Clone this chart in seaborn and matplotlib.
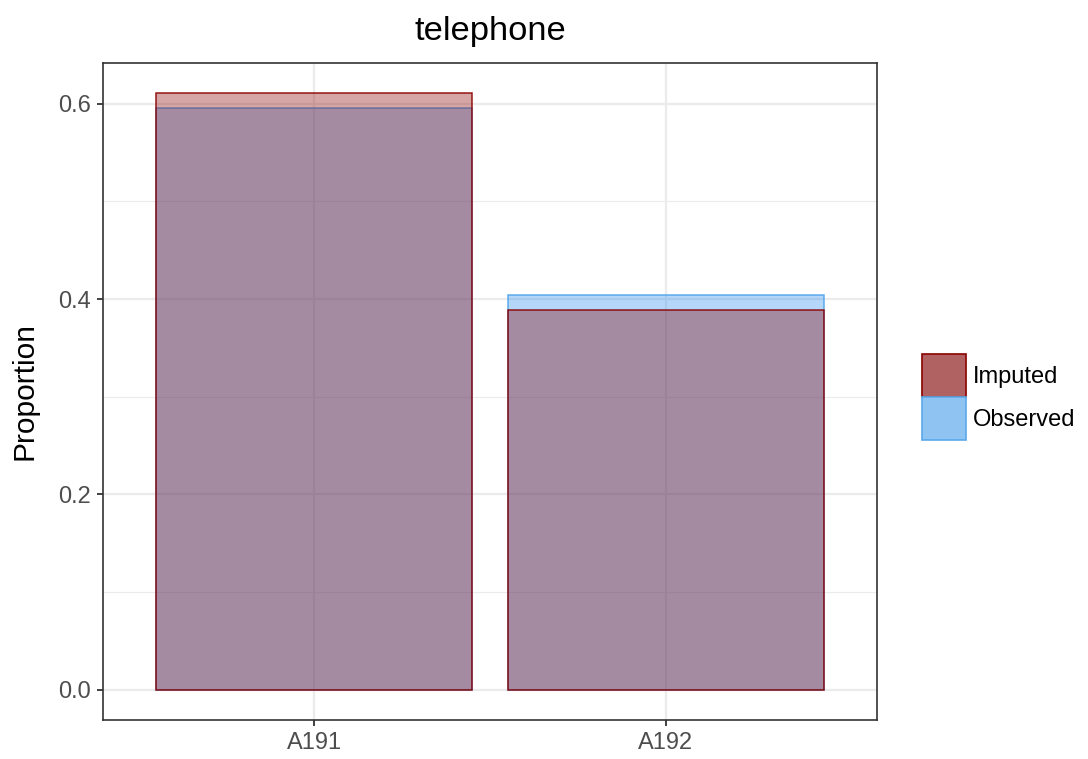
import matplotlib
matplotlib.use("Agg")
import matplotlib.pyplot as plt
from matplotlib.patches import Patch
import seaborn as sns
import pandas as pd

# Category proportions for the "telephone" variable
categories = ["A191", "A192"]
observed = [0.596, 0.404]
imputed = [0.611, 0.389]

obs_df = pd.DataFrame({"telephone": categories, "Proportion": observed})
imp_df = pd.DataFrame({"telephone": categories, "Proportion": imputed})

sns.set_theme(style="white")
plt.rcParams["font.family"] = ["Liberation Sans", "DejaVu Sans"]
plt.rcParams["text.color"] = "black"

fig = plt.figure(figsize=(10.88, 7.59), dpi=100)
ax = fig.add_axes([103 / 1088, 1 - 719.5 / 759, (877 - 103) / 1088, (719.5 - 63.3) / 759])

obs_face = (40 / 255, 140 / 255, 235 / 255, 0.35)
obs_edge = (70 / 255, 160 / 255, 235 / 255, 0.85)
imp_face = (139 / 255, 0, 0, 0.35)
imp_edge = (139 / 255, 0, 0, 0.9)

sns.barplot(data=obs_df, x="telephone", y="Proportion", order=categories,
            color="C0", saturation=1, width=0.9, ax=ax, zorder=3)
n_obs = len(ax.patches)
sns.barplot(data=imp_df, x="telephone", y="Proportion", order=categories,
            color="C1", saturation=1, width=0.9, ax=ax, zorder=4)

for i, p in enumerate(ax.patches):
    if i < n_obs:
        p.set_facecolor(obs_face)
        p.set_edgecolor(obs_edge)
    else:
        p.set_facecolor(imp_face)
        p.set_edgecolor(imp_edge)
    p.set_linewidth(1.1)

ax.set_xlim(-0.6, 1.6)
ax.set_ylim(-0.0305, 0.6415)
ax.set_yticks([0.0, 0.2, 0.4, 0.6])
ax.set_yticklabels(["0.0", "0.2", "0.4", "0.6"])
ax.set_yticks([0.1, 0.3, 0.5], minor=True)

ax.grid(True, which="major", color="#EBEBEB", linewidth=1.6, zorder=0)
ax.grid(True, which="minor", axis="y", color="#EBEBEB", linewidth=0.8, zorder=0)
ax.set_axisbelow(True)

for s in ax.spines.values():
    s.set_color("#333333")
    s.set_linewidth(1.2)

ax.tick_params(axis="both", which="major", direction="out", length=4.3, width=1.3,
               color="#333333", labelcolor="#4D4D4D", labelsize=17, pad=4.5,
               left=True, bottom=True)
ax.tick_params(axis="both", which="minor", length=0)

ax.set_xlabel("")
ax.set_ylabel("Proportion", fontsize=21.5, color="black", labelpad=14)
ax.set_title("telephone", fontsize=24.8, color="black", pad=17)

handles = [
    Patch(facecolor=(176 / 255, 98 / 255, 98 / 255), edgecolor=(139 / 255, 0, 0), linewidth=1.2, label="Imputed"),
    Patch(facecolor=(143 / 255, 196 / 255, 242 / 255), edgecolor=(90 / 255, 170 / 255, 235 / 255), linewidth=1.2, label="Observed"),
]
leg = fig.legend(handles=handles, loc="center left", bbox_to_anchor=(922 / 1088, 1 - 397 / 759),
                 frameon=False, fontsize=17, handlelength=1.85, handleheight=2.4,
                 handletextpad=0.3, labelspacing=0.02, borderpad=0, borderaxespad=0)
for t in leg.get_texts():
    t.set_color("black")

fig.savefig("out.png", dpi=100)
